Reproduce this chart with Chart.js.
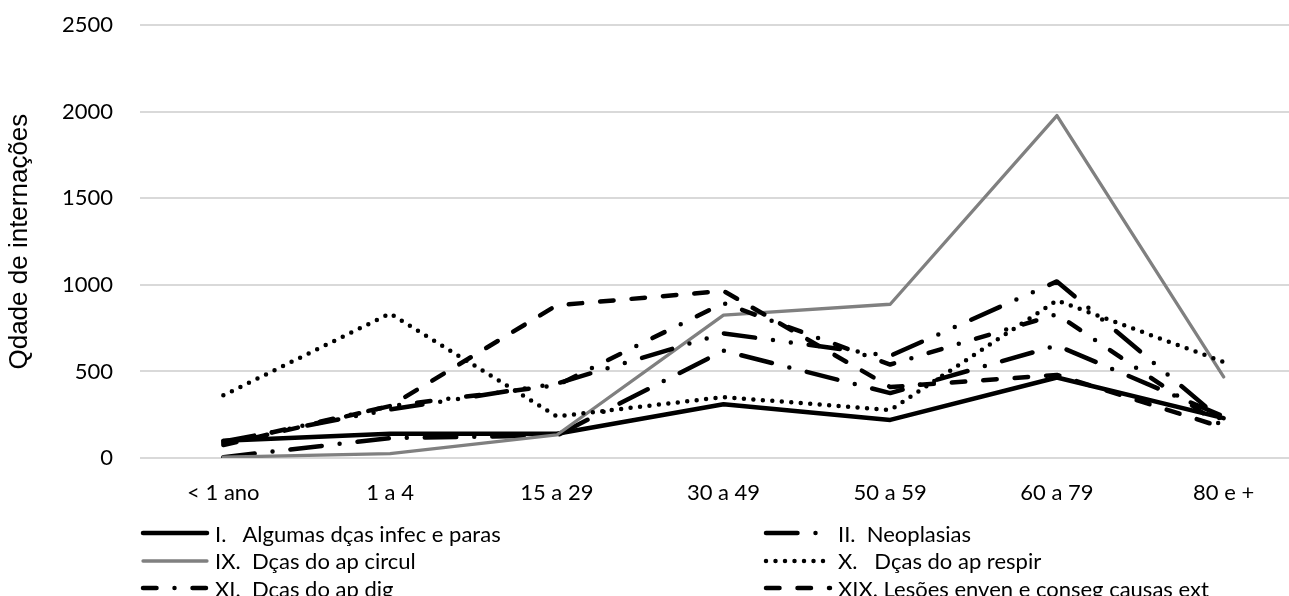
<!DOCTYPE html>
<html>
<head>
<meta charset="utf-8">
<script src="https://cdn.jsdelivr.net/npm/chart.js@4"></script>
<style>
  html, body { margin: 0; padding: 0; overflow: hidden; background: #fff; }
  #wrap { position: relative; width: 1307px; height: 596px; }
  #legenda { position: absolute; left: 0; top: 0; width: 100%; height: 100%;
             font-family: Lato, sans-serif; font-size: 22px; color: #000; }
  .item { position: absolute; display: flex; align-items: center; white-space: pre; height: 28px; }
  .item svg { margin-right: 5px; }
</style>
</head>
<body>
<div id="wrap">
  <canvas id="grafico" width="1307" height="596"></canvas>
  <div id="legenda"></div>
</div>
<script>
// faixas etárias
const categorias = ['< 1 ano', '1 a 4', '15 a 29', '30 a 49', '50 a 59', '60 a 79', '80 e +']

// Qdade de internações por capítulo
const infecParas = [100, 140, 140, 310, 220, 465, 230]
const neoplasias = [5, 115, 130, 620, 375, 650, 240]
const apCircul = [5, 25, 133, 825, 888, 1978, 468]
const apRespir = [362, 835, 240, 352, 277, 910, 555]
const apDig = [85, 300, 420, 895, 540, 830, 180]
const lesoes = [75, 300, 882, 965, 410, 480, 175]
const semLegenda = [95, 280, 430, 720, 590, 1020, 210] // a 7a série fica fora do recorte da legenda

const nomes = ['I.   Algumas dças infec e paras', 'II.  Neoplasias', 'IX.  Dças do ap circul',
               'X.   Dças do ap respir', 'XI.  Dças do ap dig', 'XIX. Lesões enven e conseg causas ext']

const yTicks = [0, 500, 1000, 1500, 2000, 2500]

// estilos parecidos com os tracejados do Excel
const w = 4.5
const estilos = [
    { cor: '#000', largura: w, dash: [] },
    { cor: '#000', largura: w, dash: [31.5, 18, 0, 18] },
    { cor: '#808080', largura: 3.3, dash: [] },
    { cor: '#000', largura: w, dash: [0, 9.5] },
    { cor: '#000', largura: w, dash: [13.5, 18, 0, 18] },
    { cor: '#000', largura: w, dash: [13.5, 18] },
    { cor: '#000', largura: w, dash: [31.5, 18, 0, 18, 0, 18] }
]

const series = [infecParas, neoplasias, apCircul, apRespir, apDig, lesoes, semLegenda]

const datasets = series.map((dados, i) => ({
    label: nomes[i] || '',
    data: dados,
    borderColor: estilos[i].cor,
    borderWidth: estilos[i].largura,
    borderDash: estilos[i].dash,
    borderCapStyle: 'round',
    borderJoinStyle: 'round',
    pointRadius: 0,
    tension: 0,
    fill: false,
    order: series.length - i
}))

const fonte = { family: 'Lato', size: 22 }

new Chart(document.getElementById('grafico'), {
    type: 'line',
    data: { labels: categorias, datasets: datasets },
    options: {
        responsive: false,
        animation: false,
        layout: { padding: 0 },
        plugins: { legend: { display: false }, tooltip: { enabled: false } },
        scales: {
            x: {
                offset: true,
                grid: { display: false, offset: true },
                border: { display: false },
                ticks: { font: fonte, color: '#000', padding: 14, maxRotation: 0 },
                afterFit: (s) => { s.height = 138 }
            },
            y: {
                min: 0,
                max: 2500,
                afterBuildTicks: (s) => { s.ticks = yTicks.map(v => ({ value: v })) },
                ticks: { font: fonte, color: '#000', padding: 12, callback: (v) => String(v) },
                // marca de tick invisível só para afastar os rótulos da área do gráfico
                grid: { color: '#d9d9d9', lineWidth: 2, drawTicks: true, tickLength: 15, tickColor: 'rgba(0,0,0,0)' },
                border: { display: false },
                title: {
                    display: true,
                    text: 'Qdade de internações',
                    font: { family: 'Liberation Sans', size: 26 },
                    color: '#000',
                    padding: { top: 4, bottom: 0 }
                },
                afterFit: (s) => { s.width = 140 }
            }
        }
    }
})

// legenda em duas colunas
const legenda = document.getElementById('legenda')
nomes.forEach((nome, i) => {
    const e = estilos[i]
    const item = document.createElement('div')
    item.className = 'item'
    item.style.left = (i % 2 ? 763 : 140) + 'px'
    item.style.top = (519 + Math.floor(i / 2) * 27.5) + 'px'
    item.innerHTML = `<svg width="70" height="12"><line x1="3" y1="6" x2="67" y2="6" stroke="${e.cor}" stroke-width="${e.largura}" stroke-linecap="round" stroke-dasharray="${e.dash.length ? e.dash.join(' ') : 'none'}"/></svg>`
    const txt = document.createElement('span')
    txt.textContent = nome
    item.appendChild(txt)
    legenda.appendChild(item)
})
</script>
</body>
</html>
